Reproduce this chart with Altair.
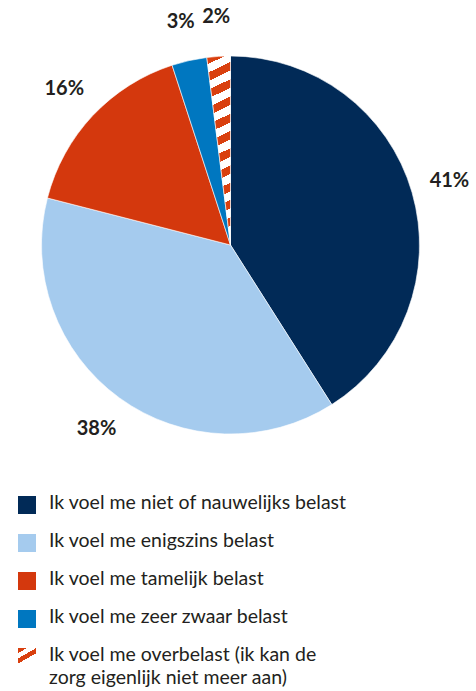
import altair as alt
import pandas as pd

categories = [
    "Ik voel me niet of nauwelijks belast",
    "Ik voel me enigszins belast",
    "Ik voel me tamelijk belast",
    "Ik voel me zeer zwaar belast",
    "Ik voel me overbelast (ik kan de\nzorg eigenlijk niet meer aan)",
]
values = [41, 38, 16, 3, 2]
labels = ["41%", "38%", "16%", "3%", "2%"]
order = [0, 1, 2, 3, 4]
colors = ["#012a57", "#a5cbee", "#d4380d", "#0077c0", "#ffffff"]

RED = "#d9400f"
WHITE = "#ffffff"


def stripes(n, x2, y2):
    stops = []
    for i in range(n):
        a, m, b = i / n, (i + 0.5) / n, (i + 1) / n
        stops += [
            {"offset": a, "color": RED},
            {"offset": m, "color": RED},
            {"offset": m, "color": WHITE},
            {"offset": b, "color": WHITE},
        ]
    return {"gradient": "linear", "x1": 0, "y1": 0, "x2": x2, "y2": y2, "stops": stops}


df = pd.DataFrame({"cat": categories, "value": values, "label": labels, "order": order})

color_enc = alt.Color("cat:N", scale=alt.Scale(domain=categories, range=colors), legend=None)
FONT = "Lato"
TXT = "#231f20"

base = alt.Chart(df).encode(
    theta=alt.Theta("value:Q", stack=True),
    order=alt.Order("order:Q"),
)

arcs = base.mark_arc(outerRadius=189, stroke="white", strokeWidth=0.6).encode(
    fill=alt.condition(alt.datum.order == 4, alt.value(stripes(11, 0.06, 1)), color_enc)
)
texts = base.mark_text(radius=228, font=FONT, fontSize=20, fontWeight="bold", color=TXT).encode(
    text="label:N"
)
pie = alt.layer(arcs, texts).properties(width=461, height=490)

lbase = alt.Chart(df).encode(
    y=alt.Y("cat:N", sort=categories, axis=None,
            scale=alt.Scale(type="point", range=[15, 167], padding=0)),
)
squares = lbase.mark_square(size=324, opacity=1).encode(
    x=alt.value(27),
    fill=alt.condition(alt.datum.order == 4, alt.value(stripes(2, 0.5, 0.87)), color_enc),
)
ltext = lbase.mark_text(align="left", baseline="top", dy=-11, font=FONT, fontSize=19.5,
                        color=TXT, lineBreak="\n", lineHeight=23).encode(
    x=alt.value(49),
    text="cat:N",
)
legend = alt.layer(squares, ltext).properties(width=476, height=201)

chart = alt.vconcat(pie, legend, spacing=0).properties(padding=0).configure_view(stroke=None)

chart.save("out.html", embed_options={"renderer": "svg", "actions": False})
